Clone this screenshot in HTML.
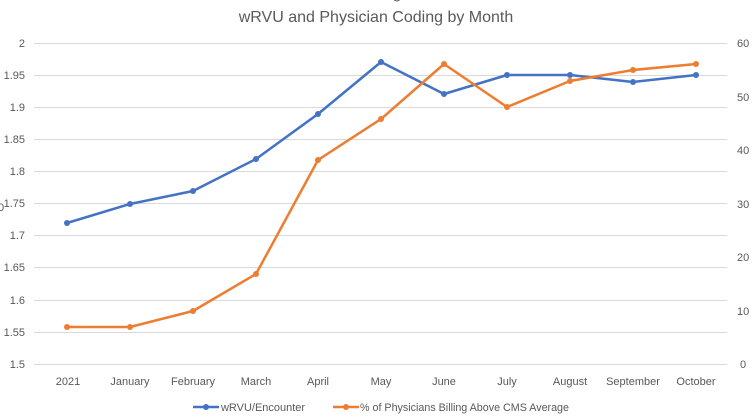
<!DOCTYPE html>
<html><head><meta charset="utf-8"><style>body{margin:0;background:#fff}svg{display:block}text{font-family:"Liberation Sans",sans-serif;fill:#595959}</style></head>
<body>
<svg width="752" height="419" viewBox="0 0 752 419" xmlns="http://www.w3.org/2000/svg">
<text x="376" y="22" font-size="16" text-anchor="middle">wRVU and Physician Coding by Month</text>
<text x="376" y="-2" font-size="16" text-anchor="middle">Coding</text>
<g stroke="#d9d9d9" stroke-width="1">
<line x1="34" x2="727" y1="43.5" y2="43.5"/><line x1="34" x2="727" y1="75.5" y2="75.5"/><line x1="34" x2="727" y1="107.5" y2="107.5"/><line x1="34" x2="727" y1="139.5" y2="139.5"/><line x1="34" x2="727" y1="171.5" y2="171.5"/><line x1="34" x2="727" y1="203.5" y2="203.5"/><line x1="34" x2="727" y1="235.5" y2="235.5"/><line x1="34" x2="727" y1="267.5" y2="267.5"/><line x1="34" x2="727" y1="300.5" y2="300.5"/><line x1="34" x2="727" y1="332.5" y2="332.5"/><line x1="34" x2="727" y1="364.5" y2="364.5"/>
</g>
<g font-size="11" text-anchor="end">
<text x="25" y="47">2</text><text x="25" y="79">1.95</text><text x="25" y="111">1.9</text><text x="25" y="143">1.85</text><text x="25" y="175">1.8</text><text x="25" y="207">1.75</text><text x="25" y="239">1.7</text><text x="25" y="271">1.65</text><text x="25" y="304">1.6</text><text x="25" y="336">1.55</text><text x="25" y="368">1.5</text>
</g>
<g font-size="11" text-anchor="start">
<text x="737" y="47">60</text><text x="737" y="101">50</text><text x="737" y="154">40</text><text x="737" y="208">30</text><text x="737" y="261">20</text><text x="737" y="315">10</text><text x="740" y="368">0</text>
</g>
<text x="-2" y="211" font-size="11">0</text>
<g font-size="11" text-anchor="middle">
<text x="68" y="385">2021</text><text x="130" y="385">January</text><text x="193" y="385">February</text><text x="256" y="385">March</text><text x="318" y="385">April</text><text x="381" y="385">May</text><text x="444" y="385">June</text><text x="507" y="385">July</text><text x="570" y="385">August</text><text x="633" y="385">September</text><text x="696" y="385">October</text>
</g>
<polyline fill="none" stroke="#4472c4" stroke-width="2.5" stroke-linejoin="round" points="67,223 130,204 193,191 256,159 318,114 381,62 444,94 507,75 570,75 633,82 696,75"/>
<polyline fill="none" stroke="#ed7d31" stroke-width="2.5" stroke-linejoin="round" points="67,327 130,327 193,311 256,274 318,160 381,119 444,64 507,107 570,81 633,70 696,64"/>
<g fill="#4472c4"><circle cx="67" cy="223" r="3"/><circle cx="130" cy="204" r="3"/><circle cx="193" cy="191" r="3"/><circle cx="256" cy="159" r="3"/><circle cx="318" cy="114" r="3"/><circle cx="381" cy="62" r="3"/><circle cx="444" cy="94" r="3"/><circle cx="507" cy="75" r="3"/><circle cx="570" cy="75" r="3"/><circle cx="633" cy="82" r="3"/><circle cx="696" cy="75" r="3"/></g>
<g fill="#ed7d31"><circle cx="67" cy="327" r="3"/><circle cx="130" cy="327" r="3"/><circle cx="193" cy="311" r="3"/><circle cx="256" cy="274" r="3"/><circle cx="318" cy="160" r="3"/><circle cx="381" cy="119" r="3"/><circle cx="444" cy="64" r="3"/><circle cx="507" cy="107" r="3"/><circle cx="570" cy="81" r="3"/><circle cx="633" cy="70" r="3"/><circle cx="696" cy="64" r="3"/></g>
<line x1="193" x2="219" y1="407" y2="407" stroke="#4472c4" stroke-width="2.5"/><circle cx="206" cy="407" r="3" fill="#4472c4"/>
<text x="221" y="411" font-size="11" textLength="84" lengthAdjust="spacingAndGlyphs">wRVU/Encounter</text>
<line x1="333" x2="359" y1="407" y2="407" stroke="#ed7d31" stroke-width="2.5"/><circle cx="346" cy="407" r="3" fill="#ed7d31"/>
<text x="360" y="411" font-size="11" textLength="209" lengthAdjust="spacingAndGlyphs">% of Physicians Billing Above CMS Average</text>
</svg>
</body></html>
